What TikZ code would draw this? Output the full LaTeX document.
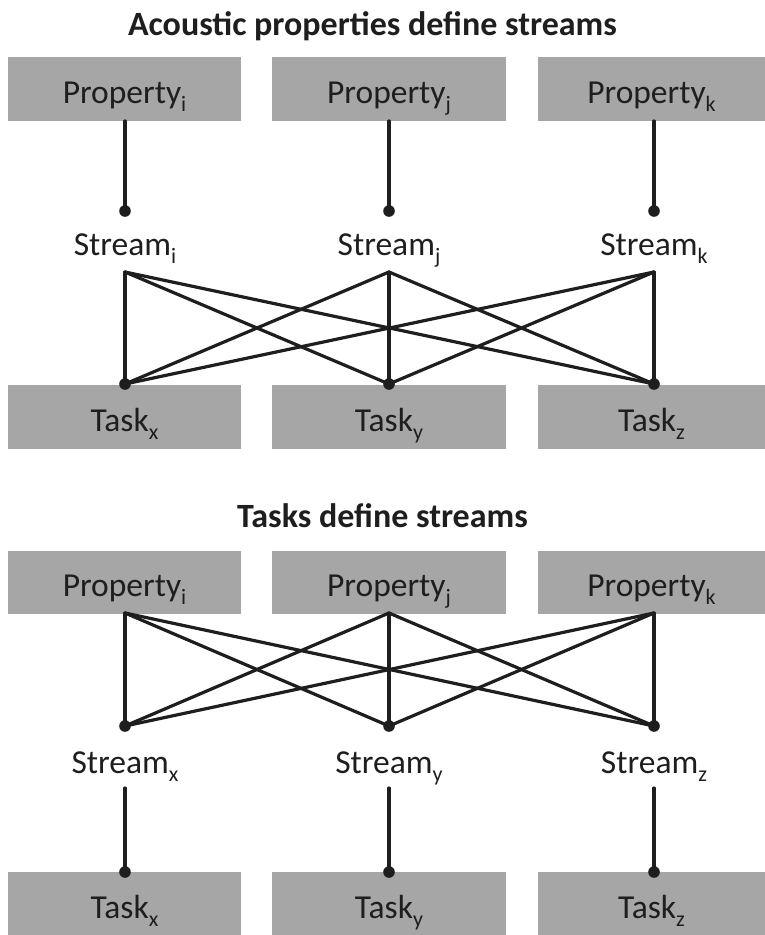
\documentclass[tikz,border=0pt]{standalone}
\usepackage{fontspec}
\setmainfont{Carlito}
\newcommand\sbs[1]{\raisebox{-8pt}{\fontsize{22}{22}\selectfont #1}}
\definecolor{boxgray}{HTML}{A6A6A6}
\definecolor{ink}{HTML}{1E1E1E}
\begin{document}
\begin{tikzpicture}[x=1pt,y=-1pt,
  box/.style={fill=boxgray, draw=none, inner sep=0pt, text=ink,
    font=\fontsize{33.5}{33.5}\selectfont, text height=29pt, text depth=0pt},
  lbl/.style={anchor=base, inner sep=0pt, text=ink, font=\fontsize{33.5}{33.5}\selectfont},
  ttl/.style={anchor=base, inner sep=0pt, text=ink, font=\bfseries\fontsize{34}{34}\selectfont},
  link/.style={draw=ink, line width=3.2pt, line cap=round},
  dotc/.style={fill=ink}
]
\useasboundingbox (0,0) rectangle (765,935);

% ---------- Top panel ----------
\node[ttl] (t1) at (372.5,35) {Acoustic properties define streams};

\node[box, minimum width=233, minimum height=64] (pa1) at (124.5,89) {Property\sbs{i}};
\node[box, minimum width=234, minimum height=64] (pa2) at (389,89) {Property\sbs{j}};
\node[box, minimum width=227, minimum height=64] (pa3) at (651.5,89) {Property\sbs{k}};

\coordinate (pa1b) at (125,121);
\coordinate (pa2b) at (389,121);
\coordinate (pa3b) at (654,121);
\coordinate (da1) at (125,211);
\coordinate (da2) at (389,211);
\coordinate (da3) at (654,211);

\node[lbl] (sa1) at (125,255) {Stream\sbs{i}};
\node[lbl] (sa2) at (389,255) {Stream\sbs{j}};
\node[lbl] (sa3) at (654,255) {Stream\sbs{k}};

\coordinate (ua1) at (125,272);
\coordinate (ua2) at (389,272);
\coordinate (ua3) at (654,272);

\node[box, minimum width=233, minimum height=64] (ta1) at (124.5,417) {Task\sbs{x}};
\node[box, minimum width=234, minimum height=64] (ta2) at (389,417) {Task\sbs{y}};
\node[box, minimum width=227, minimum height=64] (ta3) at (651.5,417) {Task\sbs{z}};

\coordinate (va1) at (125,384);
\coordinate (va2) at (389,384);
\coordinate (va3) at (654,384);

\draw[link] (pa1b) -- (da1);
\draw[link] (pa2b) -- (da2);
\draw[link] (pa3b) -- (da3);
\foreach \a in {1,2,3}{
  \foreach \b in {1,2,3}{
    \draw[link] (ua\a) -- (va\b);
  }
}
\foreach \c in {da1,da2,da3,va1,va2,va3}{
  \fill[dotc] (\c) circle (5.8);
}

% ---------- Bottom panel ----------
\node[ttl] (t2) at (382.5,527) {Tasks define streams};

\node[box, minimum width=233, minimum height=63] (pb1) at (124.5,582) {Property\sbs{i}};
\node[box, minimum width=234, minimum height=63] (pb2) at (389,582) {Property\sbs{j}};
\node[box, minimum width=227, minimum height=63] (pb3) at (651.5,582) {Property\sbs{k}};

\coordinate (ub1) at (125,613);
\coordinate (ub2) at (389,613);
\coordinate (ub3) at (654,613);
\coordinate (db1) at (125,726);
\coordinate (db2) at (389,726);
\coordinate (db3) at (654,726);

\node[lbl] (sb1) at (125,773) {Stream\sbs{x}};
\node[lbl] (sb2) at (389,773) {Stream\sbs{y}};
\node[lbl] (sb3) at (654,773) {Stream\sbs{z}};

\coordinate (wb1) at (125,788);
\coordinate (wb2) at (389,788);
\coordinate (wb3) at (654,788);
\coordinate (eb1) at (125,872);
\coordinate (eb2) at (389,872);
\coordinate (eb3) at (654,872);

\node[box, minimum width=233, minimum height=63] (tb1) at (124.5,903.5) {Task\sbs{x}};
\node[box, minimum width=234, minimum height=63] (tb2) at (389,903.5) {Task\sbs{y}};
\node[box, minimum width=227, minimum height=63] (tb3) at (651.5,903.5) {Task\sbs{z}};

\foreach \a in {1,2,3}{
  \foreach \b in {1,2,3}{
    \draw[link] (ub\a) -- (db\b);
  }
}
\draw[link] (wb1) -- (eb1);
\draw[link] (wb2) -- (eb2);
\draw[link] (wb3) -- (eb3);
\foreach \c in {db1,db2,db3,eb1,eb2,eb3}{
  \fill[dotc] (\c) circle (5.8);
}
\end{tikzpicture}
\end{document}
